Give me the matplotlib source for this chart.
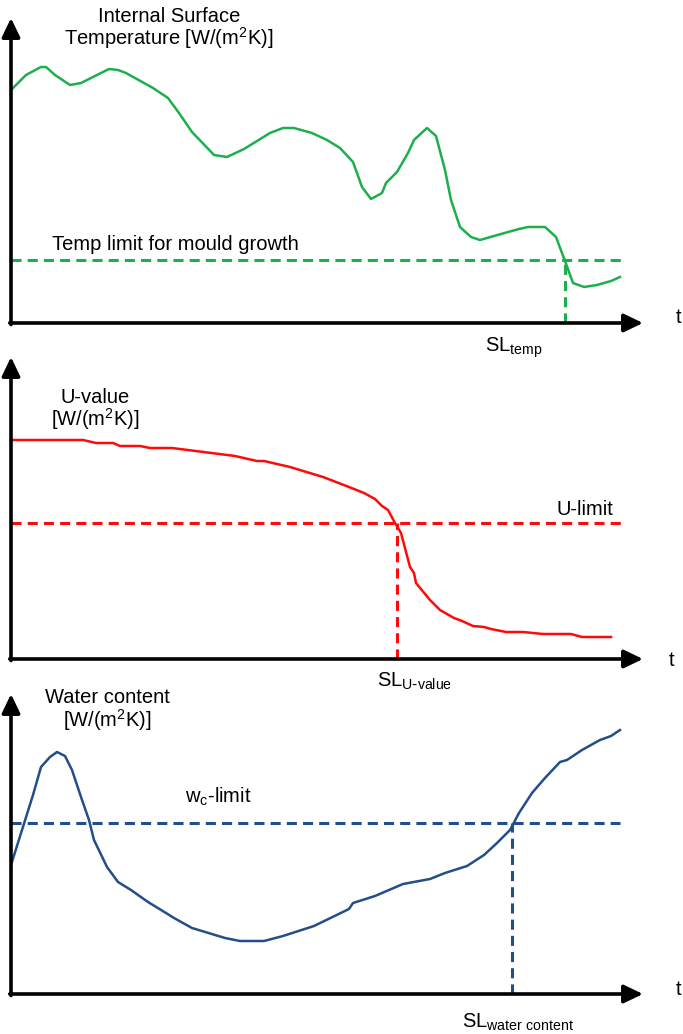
# Service life limits: temperature, U-value and water content over time

import numpy as np
import matplotlib.pyplot as plt

plt.rcParams['font.family'] = ['Liberation Sans', 'DejaVu Sans']

# panel 1: internal surface temperature (t, value above axis)
t_temp = [0, 15, 30, 35, 44, 59, 70, 98, 107, 115, 142, 157, 168, 181, 203,
          216, 233, 259, 272, 283, 301, 316, 329, 342, 351, 360, 371, 375,
          386, 397, 403, 416, 425, 434, 440, 449, 460, 469, 490, 508, 517,
          534, 545, 554, 562, 573, 586, 600, 609]
v_temp = [233, 248, 256, 256, 248, 238, 240, 254, 253, 250, 235, 225, 210,
          191, 168, 166, 174, 190, 195, 195, 190, 183, 175, 161, 136, 124,
          130, 140, 151, 170, 183, 195, 187, 153, 123, 96, 86, 83, 89, 94,
          96, 96, 86, 62, 40, 36, 38, 42, 46]
temp_limit = 63
sl_temp = 554

# panel 2: U-value
t_u = [0, 72, 85, 102, 109, 129, 139, 161, 224, 246, 253, 279, 312, 338,
       353, 364, 371, 377, 384, 390, 399, 403, 405, 419, 429, 443, 451, 462,
       473, 480, 495, 512, 532, 560, 571, 600]
v_u = [219, 219, 216, 216, 213, 213, 211, 211, 203, 198, 198, 192, 182, 172,
       166, 160, 153, 149, 136, 126, 92, 86, 76, 59, 49, 41, 38, 33, 32, 30,
       27, 27, 25, 25, 22, 22]
u_limit = 136
sl_u = 386

# panel 3: water content
t_w = [0, 11, 22, 30, 39, 46, 54, 61, 70, 78, 83, 96, 107, 120, 137, 155,
       163, 181, 214, 229, 253, 272, 303, 338, 342, 364, 392, 419, 434, 456,
       473, 486, 499, 508, 521, 534, 549, 556, 571, 589, 600, 609]
v_w = [129, 164, 199, 227, 237, 242, 238, 224, 197, 174, 154, 127, 112, 104,
       92, 81, 76, 66, 56, 53, 53, 58, 68, 85, 91, 98, 110, 115, 121, 128,
       139, 151, 164, 181, 201, 216, 232, 234, 244, 254, 258, 264]
w_limit = 171
sl_w = 501

green = '#1DAF4E'
red = '#FF0A0A'
blue = '#234E88'

fig = plt.figure(figsize=(6.83, 10.34), dpi=100)
W, H = 683, 1034


def make_axes(top, base):
    # axis origin at pixel x=11, arrow tip at x=643; data units = pixels
    ax = fig.add_axes([11 / W, 1 - base / H, 632 / W, (base - top) / H])
    ax.set_xlim(0, 632)
    ax.set_ylim(0, base - top)
    ax.axis('off')
    kw = dict(arrowstyle='-|>,head_length=1.15,head_width=0.55', lw=2.6,
              color='k', shrinkA=0, shrinkB=0, mutation_scale=10)
    ax.annotate('', xy=(0, 1), xytext=(0, -0.005), xycoords='axes fraction',
                arrowprops=kw, annotation_clip=False)
    ax.annotate('', xy=(1, 0), xytext=(-0.002, 0), xycoords='axes fraction',
                arrowprops=kw, annotation_clip=False)
    return ax


dash = dict(lw=2.2, ls=(0, (3.3, 2.0)))
fs = 14.5
sub = dict(fontsize=fs, va='baseline')
unit = '[W/(m$^{\\mathregular{2}}$K)]'

# panel 1
ax1 = make_axes(18, 323)
ax1.plot(t_temp, v_temp, color=green, lw=1.8)
ax1.plot([0, 610], [temp_limit, temp_limit], color=green, **dash)
ax1.plot([sl_temp, sl_temp], [0, temp_limit], color=green, **dash)
ax1.text(158, 301, 'Internal Surface', ha='center', **sub)
ax1.text(158, 278, 'Temperature ' + unit, ha='center', **sub)
ax1.text(41, 73, 'Temp limit for mould growth', **sub)
ax1.text(474, -29, 'SL$_{\\mathregular{temp}}$', **sub)
ax1.text(668, 0, 't', ha='center', **sub)

# panel 2
ax2 = make_axes(357, 659)
ax2.plot(t_u, v_u, color=red, lw=1.8)
ax2.plot([0, 611], [u_limit, u_limit], color=red, **dash)
ax2.plot([sl_u, sl_u], [0, u_limit], color=red, **dash)
ax2.text(84, 256, 'U-value', ha='center', **sub)
ax2.text(84, 233, unit, ha='center', **sub)
ax2.text(546, 144, 'U-limit', **sub)
ax2.text(366, -28, 'SL$_{\\mathregular{U\\text{-}value}}$', **sub)
ax2.text(661, -7, 't', ha='center', **sub)

# panel 3
ax3 = make_axes(694, 994)
ax3.plot(t_w, v_w, color=blue, lw=1.8)
ax3.plot([0, 609], [w_limit, w_limit], color=blue, **dash)
ax3.plot([sl_w, sl_w], [0, w_limit], color=blue, **dash)
ax3.text(96, 291, 'Water content', ha='center', **sub)
ax3.text(96, 267, unit, ha='center', **sub)
ax3.text(174, 191, 'w$_{\\mathregular{c}}$-limit', **sub)
ax3.text(451, -34, 'SL$_{\\mathregular{water\\ content}}$', **sub)
ax3.text(668, -1, 't', ha='center', **sub)

fig.savefig('out.png', dpi=100)
